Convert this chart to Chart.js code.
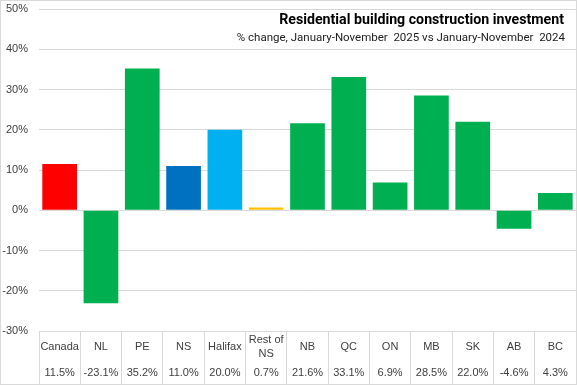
<!DOCTYPE html>
<html>
<head>
<meta charset="utf-8">
<script src="https://cdn.jsdelivr.net/npm/chart.js@4"></script>
<style>
  html,body{margin:0;padding:0;background:#fff;}
  #wrap{width:577px;height:385px;position:relative;}
</style>
</head>
<body>
<div id="wrap"><canvas id="c"></canvas></div>
<script>
const categories = ["Canada","NL","PE","NS","Halifax","Rest of NS","NB","QC","ON","MB","SK","AB","BC"];
const tableLabels = [["Canada"],["NL"],["PE"],["NS"],["Halifax"],["Rest of","NS"],["NB"],["QC"],["ON"],["MB"],["SK"],["AB"],["BC"]];
const changePct = [11.5,-23.1,35.2,11.0,20.0,0.7,21.6,33.1,6.9,28.5,22.0,-4.6,4.3];
const yTicks = [-30,-20,-10,0,10,20,30,40,50];

const barColors = ["#FF0000","#00B050","#00B050","#0070C0","#00B0F0","#FFC000","#00B050","#00B050","#00B050","#00B050","#00B050","#00B050","#00B050"];
const GRID = "#d9d9d9";

const tablePlugin = {
  id:"table",
  afterDraw(chart){
    const ctx = chart.ctx, x = chart.scales.x, area = chart.chartArea;
    ctx.save();
    ctx.fillStyle = "#404040";
    ctx.font = "11px 'Liberation Sans', Arial, sans-serif";
    ctx.textAlign = "center";
    ctx.textBaseline = "middle";
    tableLabels.forEach((lines, i) => {
      const px = x.getPixelForValue(i);
      if (lines.length === 1) ctx.fillText(lines[0], px, area.bottom + 16);
      else lines.forEach((l, k) => ctx.fillText(l, px, area.bottom + 9 + k*14));
      ctx.fillText(changePct[i].toFixed(1) + "%", px, area.bottom + 42);
    });
    // title
    ctx.textAlign = "right";
    ctx.textBaseline = "alphabetic";
    ctx.fillStyle = "#000";
    ctx.font = "bold 14.2px Roboto, sans-serif";
    ctx.fillText("Residential building construction investment", 564, 24);
    ctx.font = "11.5px Roboto, sans-serif";
    ctx.fillStyle = "#222";
    ctx.fillText("% change, January-November  2025 vs January-November  2024", 565, 41);
    // outer frame
    ctx.strokeStyle = GRID;
    ctx.lineWidth = 1;
    ctx.strokeRect(0.5, 0.5, chart.width - 1, chart.height - 1);
    ctx.restore();
  }
};

new Chart(document.getElementById("c"), {
  type:"bar",
  data:{
    labels: categories,
    datasets:[{ data: changePct, backgroundColor: barColors, barPercentage: 0.84, categoryPercentage: 1 }]
  },
  options:{
    responsive:true, maintainAspectRatio:false, animation:false,
    layout:{ padding:{ top:9, right:1, left:0, bottom:0 } },
    plugins:{ legend:{display:false}, tooltip:{enabled:false} },
    scales:{
      x:{
        offset:true,
        grid:{ offset:true, drawOnChartArea:false, drawTicks:true, tickLength:54, color:GRID },
        border:{ color:GRID },
        ticks:{ callback:() => "" },
        afterFit(s){ s.height = 54; s.paddingLeft = 0; s.paddingRight = 0; }
      },
      y:{
        min:-30, max:50,
        afterBuildTicks(s){ s.ticks = yTicks.map(v => ({value:v})); },
        grid:{ color:GRID, drawTicks:false },
        border:{ display:false },
        ticks:{ padding:11, color:"#404040", font:{ family:"'Liberation Sans', Arial, sans-serif", size:11 },
          callback:v => v + "%" },
        afterFit(s){ s.width = 39; s.paddingTop = 0; s.paddingBottom = 0; }
      }
    }
  },
  plugins:[tablePlugin]
});
</script>
</body>
</html>
